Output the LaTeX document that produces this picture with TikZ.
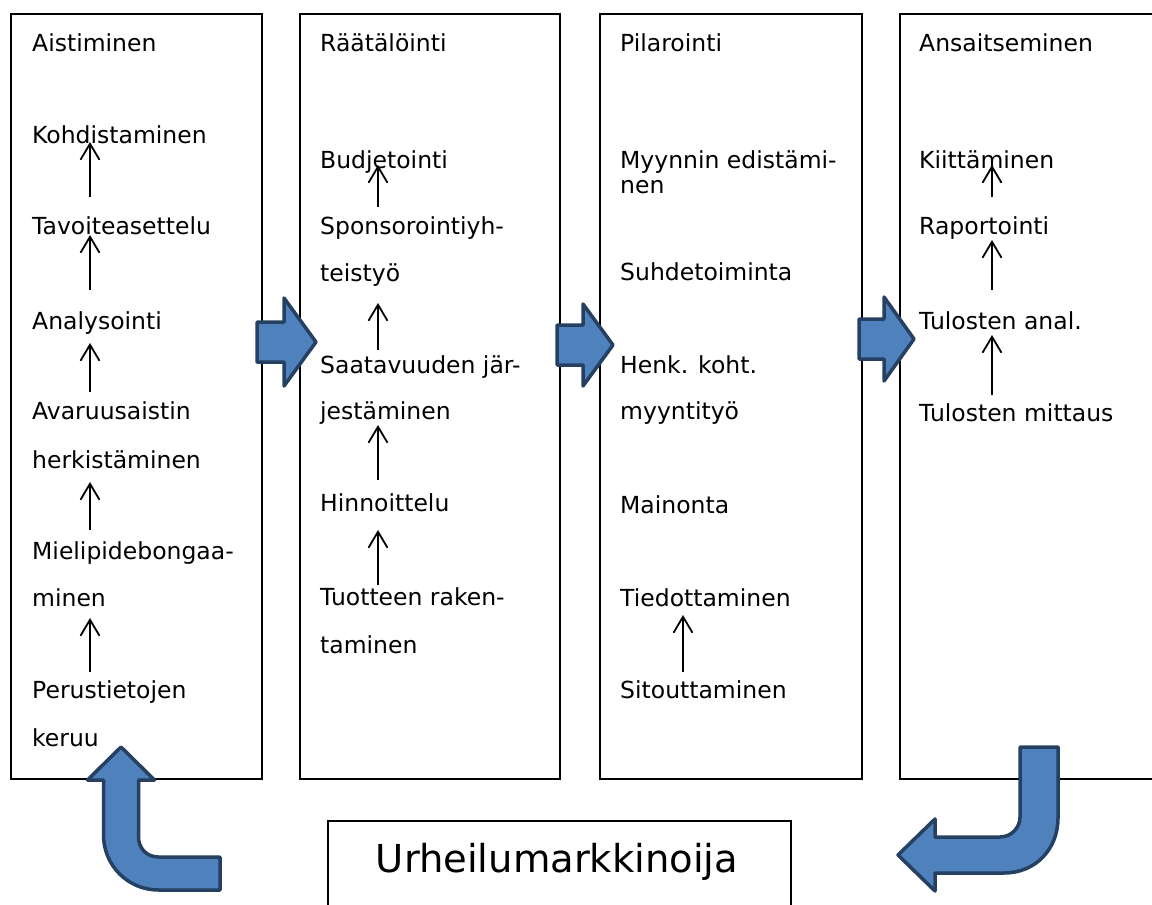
\documentclass[tikz,border=0pt]{standalone}
\usepackage{fontspec}
\setmainfont{DejaVu Sans}
\usetikzlibrary{arrows.meta}
\definecolor{bfill}{RGB}{79,129,189}
\definecolor{bline}{RGB}{37,64,97}
\begin{document}
\begin{tikzpicture}[x=1pt,y=-1pt,
  frame/.style={draw,line width=1.8pt,inner sep=0pt,anchor=north west},
  lbl/.style={anchor=base west,inner sep=0pt,font=\fontsize{23.5}{28}\selectfont},
  up/.style={-{Straight Barb[length=16pt,width=19pt]},line width=1.8pt},
  block/.style={fill=bfill,draw=bline,line width=3.5pt,line join=round}]
\clip (0,0) rectangle (1152,905);
% boxes
\node[frame,minimum width=251pt,minimum height=765pt] (b1) at (10,13) {};
\node[frame,minimum width=260pt,minimum height=765pt] (b2) at (299,13) {};
\node[frame,minimum width=262pt,minimum height=765pt] (b3) at (599,13) {};
\node[frame,minimum width=280pt,minimum height=765pt] (b4) at (899,13) {};
\node[frame,minimum width=463pt,minimum height=120pt] (b5) at (327,820) {};
\node[anchor=base,inner sep=0pt,font=\fontsize{38.5}{44}\selectfont] (um) at (557,872) {Urheilumarkkinoija};
% box 1
\node[lbl] (a0) at (32,51) {Aistiminen};
\node[lbl] (a1) at (32,143) {Kohdistaminen};
\node[lbl] (a2) at (32,234) {Tavoiteasettelu};
\node[lbl] (a3) at (32,329) {Analysointi};
\node[lbl] (a4) at (32,419) {Avaruusaistin};
\node[lbl] (a4b) at (32,468) {herkistäminen};
\node[lbl] (a5) at (32,559) {Mielipidebongaa-};
\node[lbl] (a5b) at (32,606) {minen};
\node[lbl] (a6) at (32,698) {Perustietojen};
\node[lbl] (a6b) at (32,746) {keruu};
% box 2
\node[lbl] (r0) at (320,51) {Räätälöinti};
\node[lbl] (r1) at (320,168) {Budjetointi};
\node[lbl] (r2) at (320,234) {Sponsorointiyh-};
\node[lbl] (r2b) at (320,281) {teistyö};
\node[lbl] (r3) at (320,373) {Saatavuuden jär-};
\node[lbl] (r3b) at (320,419) {jestäminen};
\node[lbl] (r4) at (320,511) {Hinnoittelu};
\node[lbl] (r5) at (320,605) {Tuotteen raken-};
\node[lbl] (r5b) at (320,653) {taminen};
% box 3
\node[lbl] (p0) at (620,51) {Pilarointi};
\node[lbl] (p1) at (620,168) {Myynnin edistämi-};
\node[lbl] (p1b) at (620,193) {nen};
\node[lbl] (p2) at (620,280) {Suhdetoiminta};
\node[lbl] (p3) at (620,373) {Henk. koht.};
\node[lbl] (p3b) at (620,419) {myyntityö};
\node[lbl] (p4) at (620,513) {Mainonta};
\node[lbl] (p5) at (620,606) {Tiedottaminen};
\node[lbl] (p6) at (620,698) {Sitouttaminen};
% box 4
\node[lbl] (s0) at (919,51) {Ansaitseminen};
\node[lbl] (s1) at (919,168) {Kiittäminen};
\node[lbl] (s2) at (919,234) {Raportointi};
\node[lbl] (s3) at (919,329) {Tulosten anal.};
\node[lbl] (s4) at (919,421) {Tulosten mittaus};
% small arrows
\coordinate (a1u) at (90,142); \coordinate (a2d) at (90,197);
\coordinate (a2u) at (90,235); \coordinate (a3d) at (90,290);
\coordinate (a3u) at (90,343); \coordinate (a4d) at (90,392);
\coordinate (a4u) at (90,482); \coordinate (a5d) at (90,530);
\coordinate (a5u) at (90,618); \coordinate (a6d) at (90,672);
\draw[up] (a2d) -- (a1u);
\draw[up] (a3d) -- (a2u);
\draw[up] (a4d) -- (a3u);
\draw[up] (a5d) -- (a4u);
\draw[up] (a6d) -- (a5u);
\coordinate (r1u) at (378,165); \coordinate (r2d) at (378,207);
\coordinate (r2u) at (378,303); \coordinate (r3d) at (378,350);
\coordinate (r3u) at (378,425); \coordinate (r4d) at (378,480);
\coordinate (r4u) at (378,530); \coordinate (r5d) at (378,585);
\draw[up] (r2d) -- (r1u);
\draw[up] (r3d) -- (r2u);
\draw[up] (r4d) -- (r3u);
\draw[up] (r5d) -- (r4u);
\coordinate (p5u) at (683,615); \coordinate (p6d) at (683,672);
\draw[up] (p6d) -- (p5u);
\coordinate (s1u) at (992,165); \coordinate (s2d) at (992,197);
\coordinate (s2u) at (992,240); \coordinate (s3d) at (992,290);
\coordinate (s3u) at (992,335); \coordinate (s4d) at (992,395);
\draw[up] (s2d) -- (s1u);
\draw[up] (s3d) -- (s2u);
\draw[up] (s4d) -- (s3u);
% block arrows right
\draw[block] (257,322) -- (284,322) -- (284,298) -- (316,342) -- (284,386) -- (284,362) -- (257,362) -- cycle;
\draw[block] (557,325) -- (583,325) -- (583,304) -- (613,345) -- (583,386) -- (583,365) -- (557,365) -- cycle;
\draw[block] (859,319) -- (884,319) -- (884,297) -- (914,339) -- (884,381) -- (884,359) -- (859,359) -- cycle;
% bent arrow bottom left
\draw[block] (87.5,780) -- (121,747) -- (154.5,780) -- (138.5,780) -- (138.5,837)
  .. controls (138.5,848) and (146.5,857) .. (158.5,857) -- (220,857) -- (220,890) -- (158.5,890)
  .. controls (127.5,890) and (103.5,865) .. (103.5,835) -- (103.5,780) -- cycle;
% bent arrow bottom right
\draw[block] (1020,747) -- (1058,747) -- (1058,818)
  .. controls (1058,849) and (1035.6,873) .. (1004,873) -- (935,873) -- (935,891) -- (898,855)
  -- (935,819) -- (935,837) -- (1000,837) .. controls (1011,837) and (1020,828) .. (1020,817) -- cycle;
\end{tikzpicture}
\end{document}
